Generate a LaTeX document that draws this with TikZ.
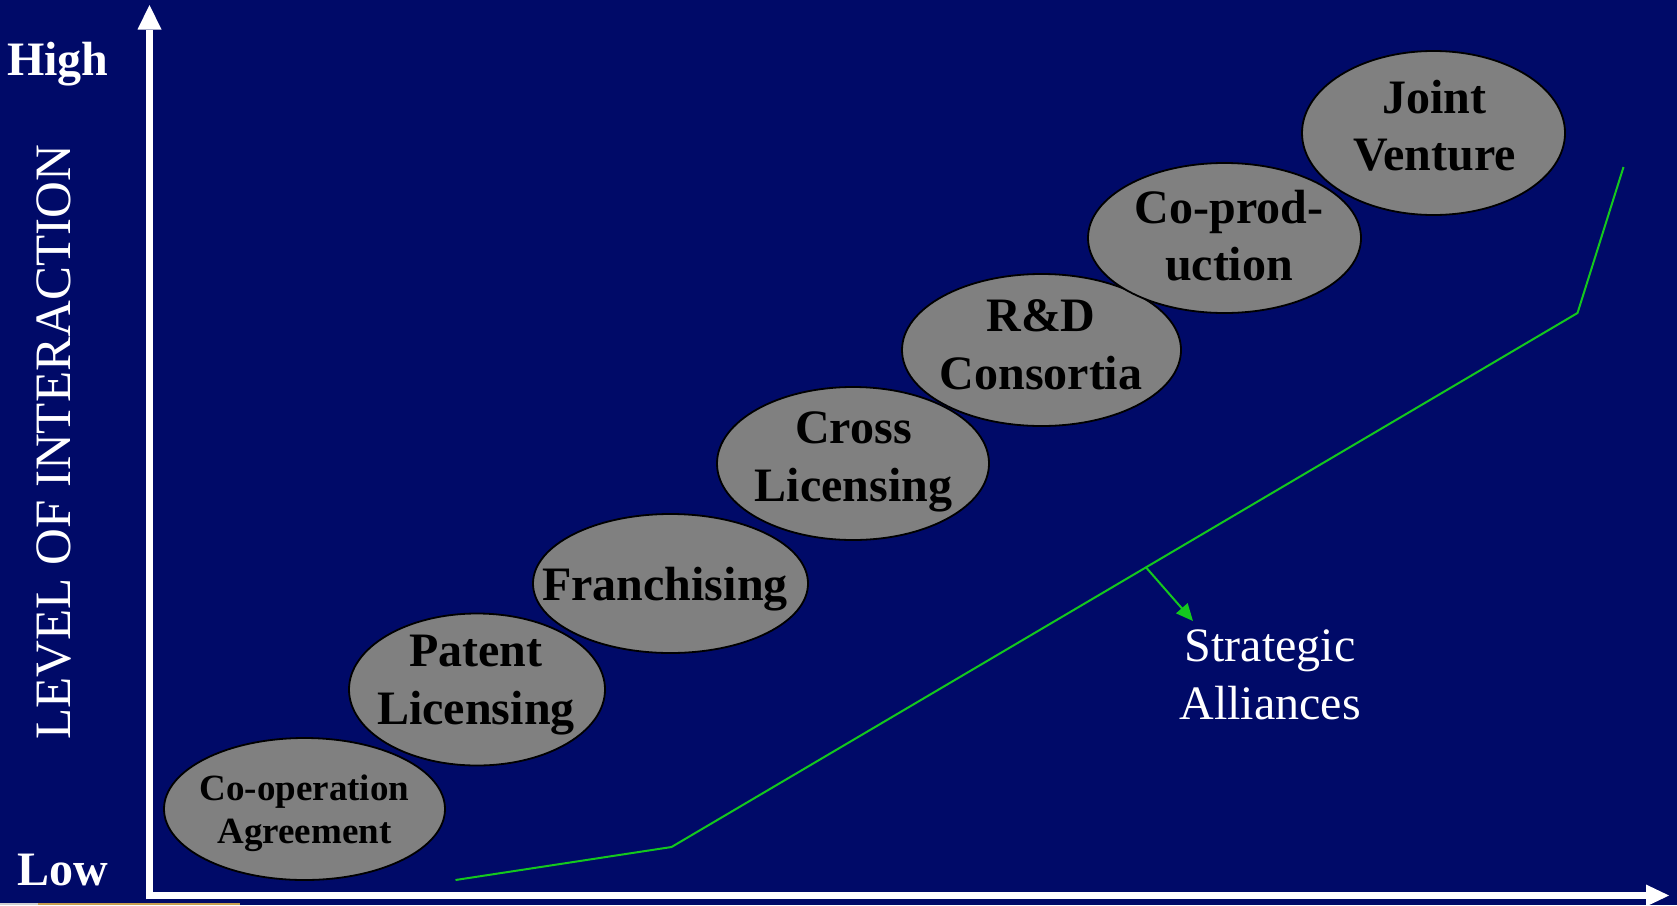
\documentclass[tikz,border=0pt]{standalone}
\usepackage{fontspec}
\setmainfont{Liberation Serif}
\usetikzlibrary{shapes.geometric,arrows.meta,calc}
\definecolor{navy}{RGB}{0,10,104}
\definecolor{ovalgray}{RGB}{128,128,128}
\definecolor{linegreen}{RGB}{20,200,30}
\definecolor{stripgray}{RGB}{208,208,208}
\definecolor{stripgold}{RGB}{200,160,80}
\begin{document}
\begin{tikzpicture}[x=1pt,y=-1pt,
  axis/.style={draw=white,line width=7.5pt},
  axishead/.style={fill=white},
  oval/.style={ellipse,draw=black,line width=1.8pt,fill=ovalgray,inner sep=0pt},
  lbl/.style={font=\bfseries\fontsize{48}{57.5}\selectfont,align=center,text=black,inner sep=0pt},
  smalllbl/.style={font=\bfseries\fontsize{37}{43}\selectfont,align=center,text=black,inner sep=0pt},
  whitebold/.style={font=\bfseries\fontsize{48}{57}\selectfont,text=white,inner sep=0pt},
  greenline/.style={draw=linegreen,line width=2pt},
  note/.style={font=\fontsize{48}{58}\selectfont,align=center,text=white,inner sep=0pt}
]
\useasboundingbox (0,0) rectangle (1677,905);
\fill[navy] (0,0) rectangle (1677,905);
\fill[stripgray] (0,902.5) rectangle (38,905);
\fill[stripgold] (38,902.5) rectangle (240,905);

% axes
\coordinate (ybot) at (149.5,899.25);
\coordinate (yshaft) at (149.5,29.5);
\coordinate (ytip) at (149.5,5);
\coordinate (xleft) at (145.75,895.5);
\coordinate (xshaft) at (1646.5,895.5);
\coordinate (xtip) at (1669,895.5);
\draw[axis] (ybot) -- (yshaft);
\fill[axishead] (137.5,29.5) -- (ytip) -- (161.5,29.5) -- cycle;
\draw[axis] (xleft) -- (xshaft);
\fill[axishead] (1646,884.5) -- (xtip) -- (1646,906.5) -- cycle;

% axis labels
\node[whitebold,anchor=base west] (high) at (7,75) {High};
\node[whitebold,anchor=base west] (low) at (17,885) {Low};
\node[font=\fontsize{51}{60}\selectfont,text=white,inner sep=0pt,rotate=90,anchor=base] (level) at (70,442.5) {LEVEL OF INTERACTION};

% ovals
\node[oval,minimum width=281pt,minimum height=142pt] (e1) at (304.5,809) {};
\node[oval,minimum width=256pt,minimum height=152pt] (e2) at (477,689.5) {};
\node[oval,minimum width=275pt,minimum height=139pt] (e3) at (670.5,583.5) {};
\node[oval,minimum width=272pt,minimum height=153pt] (e4) at (853,463.5) {};
\node[oval,minimum width=279pt,minimum height=152pt] (e5) at (1041.5,350) {};
\node[oval,minimum width=273pt,minimum height=150pt] (e6) at (1224.5,238) {};
\node[oval,minimum width=263pt,minimum height=164pt] (e7) at (1433.5,133) {};

\node[smalllbl] (t1) at (304.5,813) {Co-operation\\Agreement};
\node[lbl] (t2) at (476,685) {Patent\\Licensing};
\node[lbl] (t3) at (665,589.5) {Franchising};
\node[lbl] (t4) at (853.5,462) {Cross\\Licensing};
\node[lbl] (t5) at (1041,345) {R\&D\\Consortia};
\node[lbl] (t6) at (1229,235.5) {Co-prod-\\uction};
\node[lbl] (t7) at (1434.5,125.5) {Joint\\Venture};

% green curve
\coordinate (g1) at (455.5,880);
\coordinate (g2) at (671.5,847);
\coordinate (g3) at (1577.5,313);
\coordinate (g4) at (1623.5,167);
\draw[greenline] (g1) -- (g2) -- (g3) -- (g4);
\coordinate (a1) at ($(g2)!0.5237!(g3)$);
\coordinate (a2) at (1193,621);
\draw[greenline,-{Triangle[length=17pt,width=15pt]}] (a1) -- (a2);
\node[note] (sa) at (1270,675) {Strategic\\Alliances};
\end{tikzpicture}
\end{document}
